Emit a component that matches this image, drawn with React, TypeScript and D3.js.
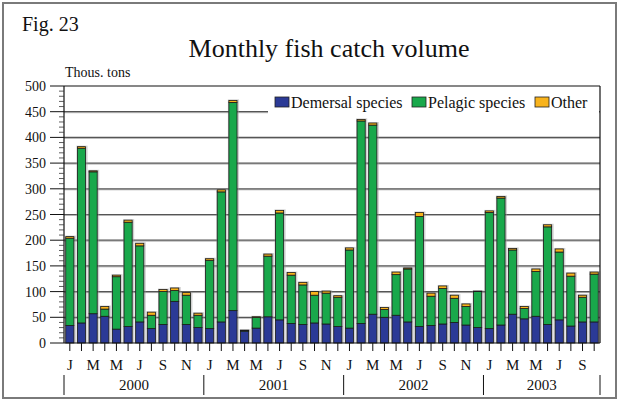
import React from "react";
import * as d3 from "d3";

const monthLetters = ["J", "F", "M", "A", "M", "J", "J", "A", "S", "O", "N", "D"];
const years = ["2000", "2001", "2002", "2003"];
const demersal = [34, 39, 57, 52, 27, 32, 41, 28, 36, 81, 36, 30,
  28, 41, 63, 23, 29, 51, 45, 38, 36, 39, 37, 32,
  29, 38, 56, 50, 54, 41, 32, 34, 37, 40, 35, 30,
  28, 35, 56, 47, 52, 36, 45, 33, 41, 41];
const pelagic = [170, 340, 276, 14, 102, 203, 148, 26, 64, 21, 57, 24,
  133, 253, 405, 1, 21, 118, 208, 94, 77, 54, 60, 57,
  152, 394, 368, 15, 79, 103, 214, 57, 69, 47, 36, 70,
  226, 247, 125, 20, 87, 190, 132, 97, 48, 93];
const other = [3, 3, 2, 5, 3, 4, 5, 6, 4, 5, 5, 4,
  3, 4, 4, 1, 1, 4, 5, 5, 5, 7, 4, 3,
  4, 3, 4, 4, 5, 2, 8, 6, 5, 6, 5, 1,
  3, 3, 3, 4, 5, 4, 6, 6, 4, 4];
const yTicks = [0, 50, 100, 150, 200, 250, 300, 350, 400, 450, 500];
const seriesNames = ["Demersal species", "Pelagic species", "Other"];
const colors = ["#2B3A96", "#19A84B", "#F8B31C"];

const W = 621, H = 406;
const L = 64, R = 600, T = 86, B = 343;
const FONT = "'Liberation Serif', 'Times New Roman', serif";

export default function App() {
  const n = demersal.length;
  const idx = d3.range(n);
  const x = d3.scaleBand<number>().domain(idx).range([L, R]).paddingInner(0.3).paddingOuter(0.15);
  const y = d3.scaleLinear().domain([0, 500]).range([B, T]);
  const rows = idx.map((i) => ({ i, d: demersal[i], p: pelagic[i], o: other[i] }));
  const stack = d3.stack<any>().keys(["d", "p", "o"])(rows);
  const step = x.step();
  const minor = d3.range(0, 501, 10).filter((v) => v % 50 !== 0);
  const yearBounds = d3.range(0, n + 1, 12).concat([n]).filter((v, k, a) => a.indexOf(v) === k);
  const boundX = (k: number) => (k >= n ? R : (x(k) as number) - (step * x.paddingInner()) / 2);

  return (
    <svg width={W} height={H} style={{ position: "absolute", left: 0, top: 0, background: "#fff" }}>
      <rect x={3} y={3} width={613} height={395} fill="#fff" stroke="#7a7a7a" strokeWidth={2} />
      <text x={22} y={31} fontFamily={FONT} fontSize={20} fill="#111">Fig. 23</text>
      <text x={329} y={57} textAnchor="middle" fontFamily={FONT} fontSize={26} fill="#111">Monthly fish catch volume</text>
      <text x={65} y={77} fontFamily={FONT} fontSize={14} fill="#111">Thous. tons</text>

      {/* gridlines */}
      {yTicks.filter((v) => v > 0 && v < 500).map((v) => (
        <g key={"g" + v}>
          <line x1={L} x2={R} y1={y(v) + 1} y2={y(v) + 1} stroke="#b5b5b5" strokeWidth={1} />
          <line x1={L} x2={R} y1={y(v)} y2={y(v)} stroke="#555" strokeWidth={1.2} />
        </g>
      ))}

      {/* legend background */}
      <rect x={268} y={92} width={R - 268 - 1} height={24} fill="#fff" />
      {seriesNames.map((s, k) => {
        const lx = [275, 412, 535][k];
        return (
          <g key={s}>
            <rect x={lx} y={97} width={14} height={10} fill={colors[k]} stroke="#222" strokeWidth={0.8} />
            <text x={lx + 16} y={108} fontFamily={FONT} fontSize={16} fill="#111">{s}</text>
          </g>
        );
      })}

      {/* bar shadows */}
      {rows.map((r) => {
        const top = y(r.d + r.p + r.o);
        return <rect key={"s" + r.i} x={(x(r.i) as number) - 1} y={top - 1} width={x.bandwidth() + 3} height={B - top + 1} fill="#999" opacity={0.45} />;
      })}
      {/* bars */}
      {stack.map((layer, k) => (
        <g key={"l" + k}>
          {layer.map((seg, i) => (
            <rect key={i} x={x(i) as number} y={y(seg[1])} width={x.bandwidth()} height={Math.max(0, y(seg[0]) - y(seg[1]))}
              fill={colors[k]} stroke="#1a1a1a" strokeWidth={0.8} />
          ))}
        </g>
      ))}

      {/* frame */}
      <line x1={L} x2={R} y1={T} y2={T} stroke="#111" strokeWidth={1.2} />
      <line x1={R} x2={R} y1={T} y2={B} stroke="#111" strokeWidth={1.2} />
      <line x1={L} x2={L} y1={T} y2={B} stroke="#111" strokeWidth={1.2} />
      <line x1={L} x2={R} y1={B} y2={B} stroke="#111" strokeWidth={1.2} />

      {/* y axis ticks */}
      {yTicks.map((v) => (
        <g key={"t" + v}>
          <line x1={50} x2={L} y1={y(v)} y2={y(v)} stroke="#111" strokeWidth={1} />
          <text x={46} y={y(v) + 5} textAnchor="end" fontFamily={FONT} fontSize={14} fill="#111">{v}</text>
        </g>
      ))}
      {minor.map((v) => (
        <line key={"m" + v} x1={59} x2={L} y1={y(v)} y2={y(v)} stroke="#333" strokeWidth={0.8} />
      ))}

      {/* x axis ticks and labels */}
      {idx.map((i) => {
        const cx = (x(i) as number) + x.bandwidth() / 2;
        return (
          <g key={"x" + i}>
            <line x1={cx} x2={cx} y1={B} y2={351} stroke="#111" strokeWidth={1} />
            {i % 2 === 0 && (
              <text x={cx} y={370} textAnchor="middle" fontFamily={FONT} fontSize={15} fill="#111">{monthLetters[i % 12]}</text>
            )}
          </g>
        );
      })}
      {yearBounds.map((k) => (
        <line key={"yb" + k} x1={boundX(k)} x2={boundX(k)} y1={375} y2={395} stroke="#111" strokeWidth={1} />
      ))}
      {years.map((yr, k) => {
        const a = boundX(k * 12);
        const b = boundX(Math.min(n, (k + 1) * 12));
        return (
          <text key={yr} x={(a + b) / 2} y={390} textAnchor="middle" fontFamily={FONT} fontSize={15} fill="#111">{yr}</text>
        );
      })}
    </svg>
  );
}
